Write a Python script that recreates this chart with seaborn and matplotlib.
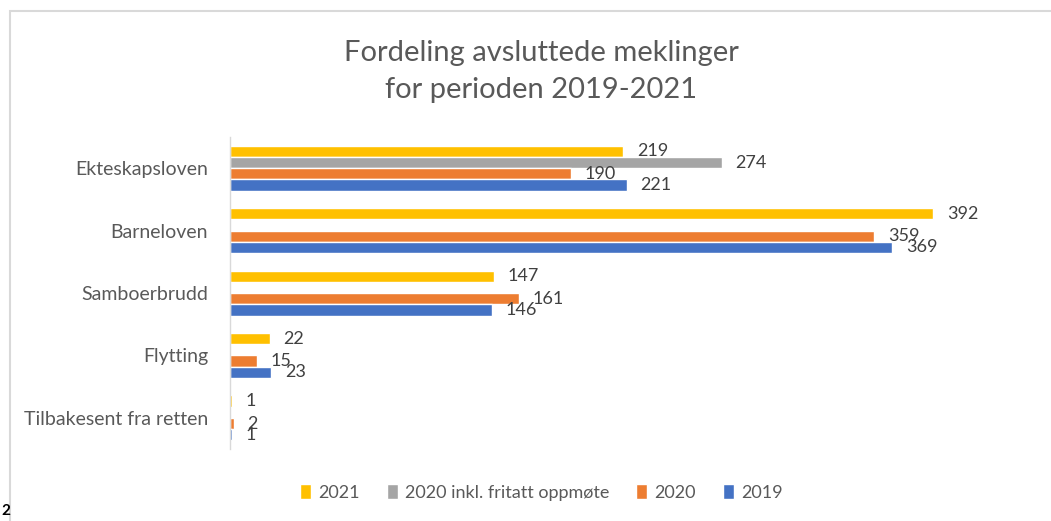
import numpy as np
import pandas as pd
import matplotlib
matplotlib.use("Agg")
import matplotlib.pyplot as plt
import seaborn as sns
from matplotlib.patches import Rectangle

categories = ["Ekteskapsloven", "Barneloven", "Samboerbrudd", "Flytting", "Tilbakesent fra retten"]
series_names = ["2021", "2020 inkl. fritatt oppmøte", "2020", "2019"]
v2021 = [219, 392, 147, 22, 1]
v2020_inkl = [274, np.nan, np.nan, np.nan, np.nan]
v2020 = [190, 359, 161, 15, 2]
v2019 = [221, 369, 146, 23, 1]
colors = ["#FFC000", "#A5A5A5", "#ED7D31", "#4472C4"]

rows = []
for name, vals in zip(series_names, [v2021, v2020_inkl, v2020, v2019]):
    for c, v in zip(categories, vals):
        rows.append({"kategori": c, "serie": name, "verdi": v})
df = pd.DataFrame(rows)

sns.set_theme(style="white")
plt.rcParams["font.family"] = ["Lato", "DejaVu Sans"]
txt = "#595959"

fig = plt.figure(figsize=(10.51, 5.21), dpi=100)
ax = fig.add_axes([0.219, 0.138, 0.734, 0.599])

sns.barplot(data=df, y="kategori", x="verdi", hue="serie", order=categories,
            hue_order=series_names, palette=colors, orient="h", width=0.72,
            saturation=1, ax=ax, legend=True)

for cont in ax.containers:
    labels = []
    for b in cont:
        w = b.get_width()
        labels.append("" if (w is None or np.isnan(w)) else f"{int(round(w))}")
    ax.bar_label(cont, labels=labels, padding=10, fontsize=13, color="#404040")

ax.set_xlim(0, 430)
ax.set_ylim(4.5, -0.5)
ax.set_xlabel("")
ax.set_ylabel("")
ax.set_xticks([])
for s in ["top", "right", "bottom"]:
    ax.spines[s].set_visible(False)
ax.spines["left"].set_color("#d9d9d9")
ax.spines["left"].set_linewidth(1)
ax.tick_params(axis="y", which="major", length=0, pad=16, labelsize=14, labelcolor=txt)
ax.set_yticks(np.arange(-0.5, 5, 1), minor=True)
ax.tick_params(axis="y", which="minor", length=6, color="#d9d9d9", width=1)

leg = ax.get_legend()
handles = leg.legend_handles
leg.remove()
fig.legend(handles, series_names, loc="center", bbox_to_anchor=(0.515, 0.055), ncol=4,
           frameon=False, fontsize=13, handlelength=0.6, handleheight=0.9,
           handletextpad=0.4, columnspacing=1.5, labelcolor=txt)

fig.text(0.515, 0.863, "Fordeling avsluttede meklinger\nfor perioden 2019-2021",
         ha="center", va="center", fontsize=21, color=txt, linespacing=1.55)

fig.patches.append(Rectangle((10 / 1051, -0.05), 1.1, 1 - 11 / 521 + 0.05,
                             transform=fig.transFigure, fill=False,
                             edgecolor="#d9d9d9", linewidth=1.5))
fig.text(0.001, 0.012, "2", fontsize=11, fontweight="bold", color="black")

fig.savefig("out.png", dpi=100)
